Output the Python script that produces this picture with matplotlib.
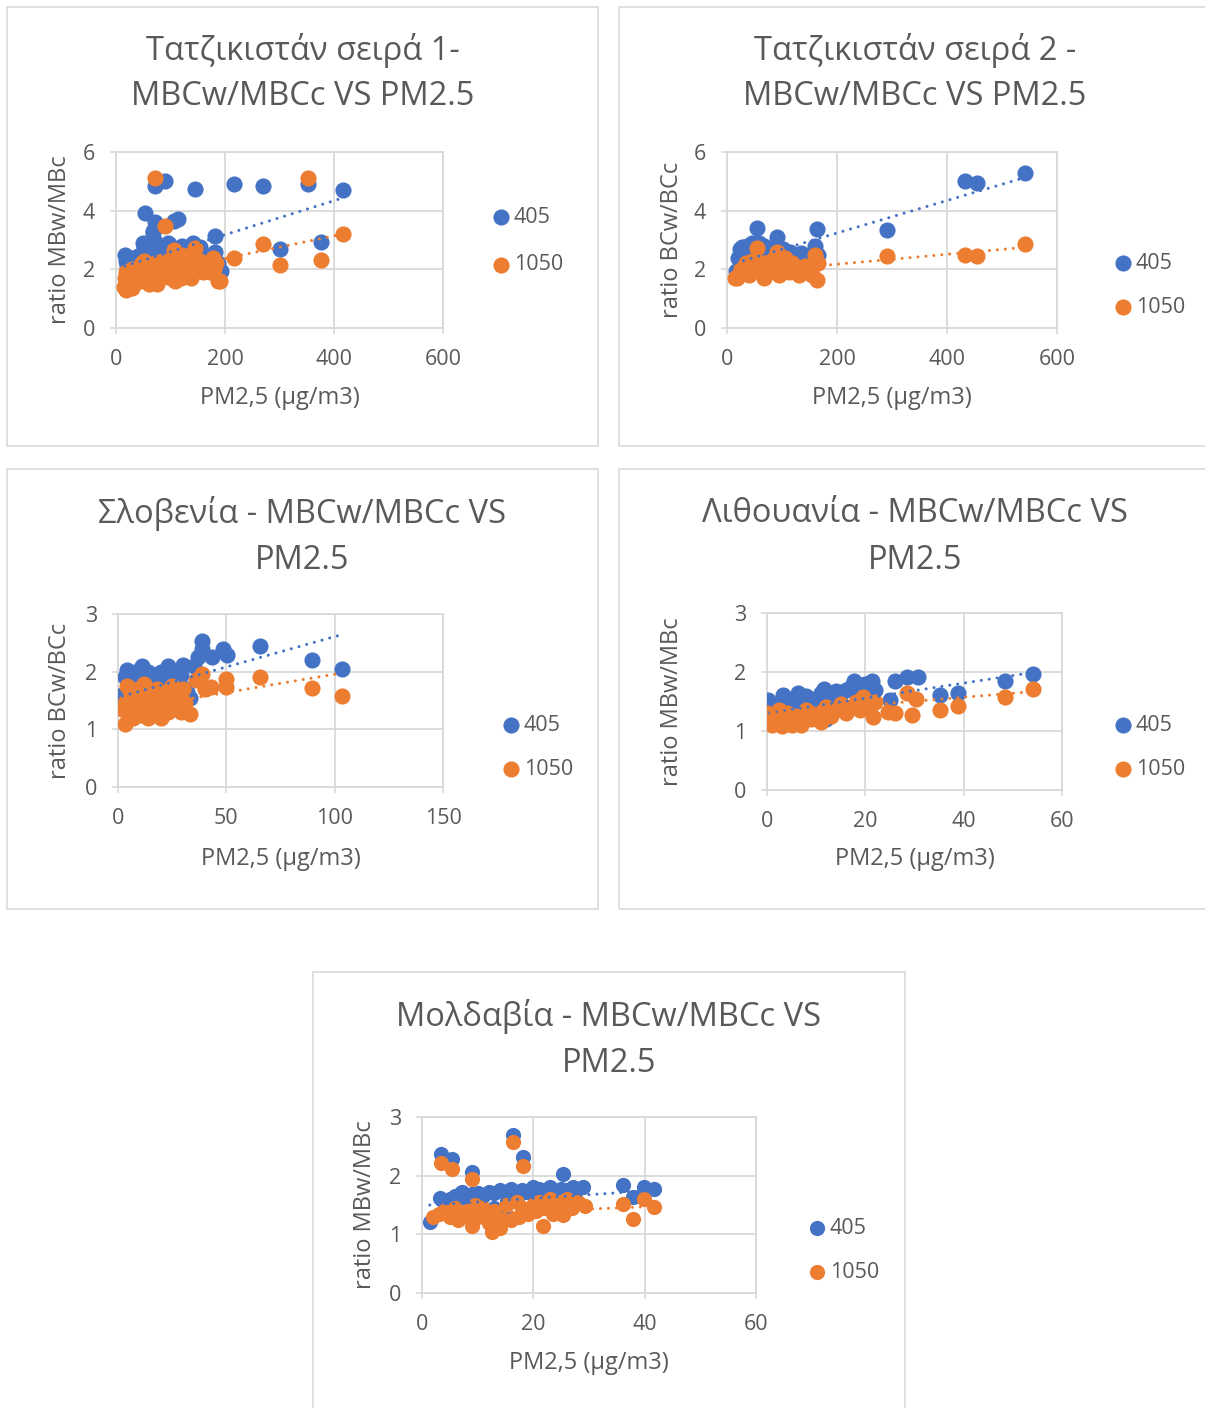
import matplotlib
matplotlib.use("Agg")
import matplotlib.pyplot as plt
import numpy as np

plt.rcParams['font.family'] = ['Open Sans', 'DejaVu Sans']

BLUE = '#4472C4'
ORANGE = '#ED7D31'
GRID = '#D9D9D9'
TXT = '#595959'

W, H = 1205, 1408

# ---------------- data ----------------
# Tajikistan series 1
taj1_x_405 = [16, 18, 20, 22, 25, 28, 30, 35, 38, 42, 45, 50, 52, 55, 58, 60, 62, 65, 68, 70, 72, 75, 78, 80,
              85, 88, 92, 95, 100, 105, 108, 112, 118, 122, 128, 132, 138, 142, 148, 152, 158, 162, 168, 172,
              178, 182, 188, 192, 20, 40, 64, 82, 98, 125, 155, 175,
              72, 90, 145, 217, 269, 353, 417, 53, 72, 107, 114, 182, 300, 376, 68, 50]
taj1_y_405 = [2.5, 2.3, 2.1, 1.9, 2.2, 2.0, 2.4, 1.9, 2.2, 2.3, 2.0, 2.6, 2.8, 2.5, 2.9, 2.7, 2.4, 2.2, 3.3, 3.0,
              2.6, 2.8, 2.3, 2.5, 2.2, 2.7, 2.4, 2.9, 2.6, 2.3, 2.5, 2.7, 2.2, 2.8, 2.5, 2.3, 2.6, 2.9, 2.4, 2.6,
              2.2, 2.5, 2.3, 2.1, 2.4, 2.6, 2.2, 1.95, 2.25, 2.45, 2.75, 2.65, 2.85, 2.65, 2.75, 2.45,
              4.85, 5.02, 4.75, 4.9, 4.85, 4.92, 4.72, 3.93, 3.6, 3.65, 3.7, 3.13, 2.69, 2.94, 3.25, 2.9]
taj1_x_1050 = [15, 17, 19, 21, 24, 27, 30, 33, 36, 40, 44, 48, 52, 56, 60, 64, 68, 72, 76, 80, 84, 88, 93, 98,
               103, 108, 112, 116, 120, 125, 130, 135, 140, 145, 150, 155, 160, 166, 172, 178, 183, 188,
               22, 45, 70, 95, 118, 138, 162, 180,
               72, 353, 90, 269, 217, 300, 376, 417, 145, 107, 191, 18, 30, 60, 75]
taj1_y_1050 = [1.4, 1.7, 1.9, 1.5, 1.8, 1.6, 2.0, 1.5, 1.7, 1.9, 1.6, 2.2, 2.3, 1.8, 2.0, 2.1, 1.7, 2.2, 1.6, 2.0,
               2.3, 1.8, 2.1, 1.9, 2.4, 1.6, 2.2, 2.0, 1.7, 2.5, 2.1, 1.9, 2.2, 2.4, 2.0, 2.3, 1.9, 2.1, 1.9, 2.4,
               2.2, 1.6, 1.65, 1.85, 1.95, 1.75, 1.85, 1.7, 2.2, 2.0,
               5.1, 5.13, 3.47, 2.88, 2.38, 2.16, 2.33, 3.21, 2.72, 2.67, 1.61, 1.3, 1.35, 1.5, 1.5]
taj1_trend_405 = (2.02, 0.0058)    # intercept, slope
taj1_trend_1050 = (1.60, 0.00385)

# Tajikistan series 2
taj2_x_405 = [16, 20, 24, 28, 32, 36, 40, 45, 50, 54, 58, 63, 68, 73, 78, 84, 90, 96, 102, 108, 114, 120, 127,
              134, 140, 147, 153, 160, 163, 166, 30, 60, 85, 115, 145, 290, 433, 454, 542]
taj2_y_405 = [1.95, 2.4, 2.7, 2.75, 2.6, 2.8, 2.5, 2.9, 2.85, 3.41, 2.9, 2.6, 2.8, 2.5, 2.7, 2.3, 3.09, 2.6, 2.7,
              2.4, 2.6, 2.5, 2.3, 2.55, 2.2, 2.0, 2.3, 2.8, 3.38, 2.5, 2.3, 2.45, 2.55, 2.35, 2.45,
              3.33, 5.01, 4.95, 5.3]
taj2_x_1050 = [15, 18, 22, 26, 30, 35, 40, 45, 50, 54, 58, 62, 67, 72, 77, 82, 88, 90, 95, 100, 106, 112, 118,
               124, 130, 136, 142, 148, 155, 160, 163, 165, 290, 433, 454, 542]
taj2_y_1050 = [1.7, 1.7, 1.8, 2.0, 1.9, 2.2, 1.8, 2.3, 2.1, 2.73, 2.0, 2.2, 1.7, 1.9, 2.3, 2.0, 2.2, 2.6, 1.8, 2.1,
               2.4, 1.9, 2.2, 2.0, 1.8, 1.9, 2.1, 1.9, 1.8, 2.5, 1.64, 2.2, 2.47, 2.48, 2.46, 2.88]
taj2_trend_405 = (2.13, 0.00554)
taj2_trend_1050 = (1.84, 0.00168)

# Slovenia
slo_x_405 = [2, 3, 4, 5, 6, 7, 8, 9, 10, 11, 12, 13, 14, 15, 16, 17, 18, 19, 20, 21, 22, 23, 24, 25, 26, 27, 28,
             29, 30, 31, 32, 33, 38.6, 38.6, 48.6, 50.2, 43.2, 37, 65.5, 89.7, 103.5, 35]
slo_y_405 = [1.6, 1.9, 2.03, 1.8, 1.95, 1.7, 2.0, 1.85, 1.75, 2.09, 1.9, 1.8, 2.0, 1.7, 1.85, 1.95, 1.75, 1.9,
             2.0, 1.8, 1.7, 2.09, 1.9, 1.85, 2.0, 1.75, 1.8, 1.95, 2.11, 1.7, 1.65, 1.54,
             2.54, 2.39, 2.40, 2.29, 2.25, 2.25, 2.44, 2.2, 2.05, 2.1]
slo_x_1050 = [2, 3, 3.5, 4, 5, 6, 7, 8, 9, 10, 11, 12, 13, 14, 15, 16, 17, 18, 19, 20, 21, 22, 23, 24, 25, 26,
              27, 28, 29, 30, 31, 33, 38.6, 49.9, 50, 65.5, 89.7, 103.5, 43, 36, 40]
slo_y_1050 = [1.36, 1.1, 1.5, 1.75, 1.3, 1.6, 1.2, 1.45, 1.7, 1.25, 1.55, 1.78, 1.35, 1.2, 1.6, 1.45, 1.3, 1.7,
              1.5, 1.2, 1.4, 1.65, 1.3, 1.55, 1.75, 1.4, 1.5, 1.6, 1.3, 1.7, 1.45, 1.26,
              1.96, 1.88, 1.74, 1.9, 1.71, 1.58, 1.74, 1.85, 1.7]
slo_trend_405 = (1.555, 0.01053)
slo_trend_1050 = (1.32, 0.00636)

# Lithuania
lit_x_405 = [0.3, 1, 1.5, 2, 3, 3.3, 4, 5, 6, 6.4, 7, 8, 9, 10, 11, 11.5, 12, 13, 14, 15, 16, 17, 17.6, 18, 19,
             20, 21, 21.3, 22, 26, 28.4, 30.8, 25, 35.2, 38.9, 48.4, 54.2]
lit_y_405 = [1.53, 1.4, 1.35, 1.45, 1.5, 1.61, 1.45, 1.55, 1.5, 1.64, 1.4, 1.6, 1.55, 1.5, 1.65, 1.71, 1.2, 1.6,
             1.68, 1.65, 1.7, 1.75, 1.84, 1.7, 1.78, 1.8, 1.75, 1.84, 1.7, 1.84, 1.91, 1.91, 1.53, 1.61, 1.64,
             1.85, 1.97]
lit_x_1050 = [0, 0.5, 1, 1.5, 2, 2.5, 3, 3.5, 4, 5, 6, 7, 8, 9, 10, 11, 12, 13, 14, 15, 16, 17, 18, 19, 19.6, 20,
              21, 21.6, 22, 24.7, 26, 28.4, 29.4, 30.4, 35.2, 38.9, 48.4, 54.2]
lit_y_1050 = [1.30, 1.2, 1.1, 1.25, 1.15, 1.35, 1.08, 1.2, 1.3, 1.1, 1.25, 1.1, 1.35, 1.2, 1.3, 1.15, 1.4, 1.25,
              1.35, 1.45, 1.3, 1.4, 1.5, 1.35, 1.58, 1.45, 1.4, 1.24, 1.5, 1.32, 1.30, 1.64, 1.27, 1.55, 1.36,
              1.42, 1.58, 1.71]
lit_trend_405 = (1.30, 0.0128)
lit_trend_1050 = (1.30, 0.0068)

# Moldova
mol_x_405 = [1.4, 3.2, 4, 5, 6, 7, 7.1, 8, 9, 10, 11, 12, 13, 14, 15, 16, 17, 18, 19, 20, 21, 22, 23, 24, 25, 26,
             27, 27.2, 28.9, 16.3, 18.1, 3.4, 5.4, 8.9, 25.3, 36.1, 39.9, 41.7, 37.9, 13, 15]
mol_y_405 = [1.21, 1.62, 1.55, 1.6, 1.65, 1.7, 1.72, 1.6, 1.68, 1.7, 1.65, 1.72, 1.7, 1.75, 1.68, 1.78, 1.7,
             1.75, 1.72, 1.8, 1.78, 1.75, 1.8, 1.72, 1.78, 1.75, 1.7, 1.8, 1.8,
             2.69, 2.31, 2.37, 2.28, 2.07, 2.03, 1.84, 1.80, 1.78, 1.64, 1.45, 1.3]
mol_x_1050 = [2, 3, 4, 5, 6, 7, 8, 9, 9.5, 10, 11, 12, 12.5, 13, 14, 15, 16, 17, 18, 19, 20, 21, 21.7, 22, 23, 24,
              25, 25.3, 26, 27, 28, 29.3, 6.5, 8.5, 11.5, 14.5, 17.5, 20.5, 23.5,
              16.3, 18.1, 3.4, 5.4, 8.9, 36.1, 37.9, 39.9, 41.7]
mol_y_1050 = [1.3, 1.35, 1.4, 1.3, 1.45, 1.35, 1.4, 1.15, 1.5, 1.3, 1.45, 1.2, 1.04, 1.4, 1.1, 1.5, 1.25, 1.55,
              1.45, 1.35, 1.5, 1.55, 1.14, 1.45, 1.6, 1.5, 1.55, 1.33, 1.6, 1.45, 1.55, 1.48,
              1.25, 1.3, 1.35, 1.25, 1.3, 1.4, 1.35,
              2.58, 2.16, 2.22, 2.12, 1.94, 1.52, 1.26, 1.6, 1.47]
mol_trend_405 = (1.49, 0.0062)
mol_trend_1050 = (1.32, 0.0037)

fig = plt.figure(figsize=(W / 100, H / 100), dpi=100)


def fx(px):
    return px / W


def fy(py):
    return 1 - py / H


def panel_box(l, t, r, b):
    rect = plt.Rectangle((fx(l), fy(b)), fx(r - l), (b - t) / H, transform=fig.transFigure,
                         fill=False, edgecolor=GRID, lw=1.2)
    fig.patches.append(rect)


def draw_panel(box, area, titles, ylabel, xlim, xticks, ylim, yticks,
               x405, y405, x1050, y1050, t405, t1050, leg_pos, ylab_x, xlab_y, title_y, ms=135):
    panel_box(*box)
    l, t, r, b = area
    ax = fig.add_axes([fx(l), fy(b), fx(r - l), (b - t) / H])
    ax.set_xlim(*xlim)
    ax.set_ylim(*ylim)
    ax.set_xticks(xticks)
    ax.set_yticks(yticks)
    ax.grid(True, color=GRID, lw=1.3)
    ax.set_axisbelow(True)
    for s in ax.spines.values():
        s.set_color(GRID)
        s.set_linewidth(1.3)
    ax.tick_params(colors=GRID, labelcolor=TXT, labelsize=15.5, length=4, width=1.2, pad=11)
    sc1 = ax.scatter(x405, y405, s=ms, color=BLUE, lw=0, label='405', zorder=3)
    sc2 = ax.scatter(x1050, y1050, s=ms, color=ORANGE, lw=0, label='1050', zorder=4)
    for xs, tr, c in ((x405, t405, BLUE), (x1050, t1050, ORANGE)):
        xx = np.array([min(xs), max(xs)])
        ax.plot(xx, tr[0] + tr[1] * xx, color=c, lw=2.2, linestyle=(0, (0.01, 2.6)),
                dash_capstyle='round', zorder=5)
    ax.legend(handles=[sc1, sc2], loc='center left', bbox_to_anchor=(fx(leg_pos[0]), fy(leg_pos[1])),
              bbox_transform=fig.transFigure, frameon=False, fontsize=15.5, labelcolor=TXT,
              handletextpad=0.0, labelspacing=leg_pos[2], borderpad=0, borderaxespad=0, handlelength=1.2)
    cx = (l + r) / 2
    fig.text(fx(ylab_x), fy((t + b) / 2), ylabel, rotation=90, ha='center', va='center',
             fontsize=17, color=TXT)
    fig.text(fx(cx), fy(xlab_y), 'PM2,5 (μg/m3)', ha='center', va='center', fontsize=17, color=TXT)
    tcx = (box[0] + min(box[2], box[0] + 592)) / 2
    for i, line in enumerate(titles):
        fig.text(fx(tcx), fy(title_y + i * 46.5), line, ha='center', va='center', fontsize=23.5, color=TXT)
    return ax


draw_panel((7, 7, 598, 446), (116, 152, 443, 328), ['Τατζικιστάν σειρά 1-', 'MBCw/MBCc VS PM2.5'],
           'ratio MBw/MBc', (0, 600), [0, 200, 400, 600], (0, 6), [0, 2, 4, 6],
           taj1_x_405, taj1_y_405, taj1_x_1050, taj1_y_1050, taj1_trend_405, taj1_trend_1050,
           (488, 241, 1.24), 60, 398, 50)

draw_panel((619, 7, 1211, 446), (727, 152, 1057, 328), ['Τατζικιστάν σειρά 2 -', 'MBCw/MBCc VS PM2.5'],
           'ratio BCw/BCc', (0, 600), [0, 200, 400, 600], (0, 6), [0, 2, 4, 6],
           taj2_x_405, taj2_y_405, taj2_x_1050, taj2_y_1050, taj2_trend_405, taj2_trend_1050,
           (1110, 285.5, 1.08), 672, 398, 50)

draw_panel((7, 469, 598, 909), (118, 614, 443, 787), ['Σλοβενία - MBCw/MBCc VS', 'PM2.5'],
           'ratio BCw/BCc', (0, 150), [0, 50, 100, 150], (0, 3), [0, 1, 2, 3],
           slo_x_405, slo_y_405, slo_x_1050, slo_y_1050, slo_trend_405, slo_trend_1050,
           (498, 747.5, 1.08), 60, 859, 514)

draw_panel((619, 469, 1211, 909), (767, 613, 1062, 790), ['Λιθουανία - MBCw/MBCc VS', 'PM2.5'],
           'ratio MBw/MBc', (0, 60), [0, 20, 40, 60], (0, 3), [0, 1, 2, 3],
           lit_x_405, lit_y_405, lit_x_1050, lit_y_1050, lit_trend_405, lit_trend_1050,
           (1110, 747.5, 1.08), 672, 859, 514)

draw_panel((313, 972, 905, 1412), (422, 1117, 756, 1293), ['Μολδαβία - MBCw/MBCc VS', 'PM2.5'],
           'ratio MBw/MBc', (0, 60), [0, 20, 40, 60], (0, 3), [0, 1, 2, 3],
           mol_x_405, mol_y_405, mol_x_1050, mol_y_1050, mol_trend_405, mol_trend_1050,
           (804, 1250.5, 1.08), 365, 1363, 1017, ms=120)

fig.savefig('out.png', dpi=100, facecolor='white')
